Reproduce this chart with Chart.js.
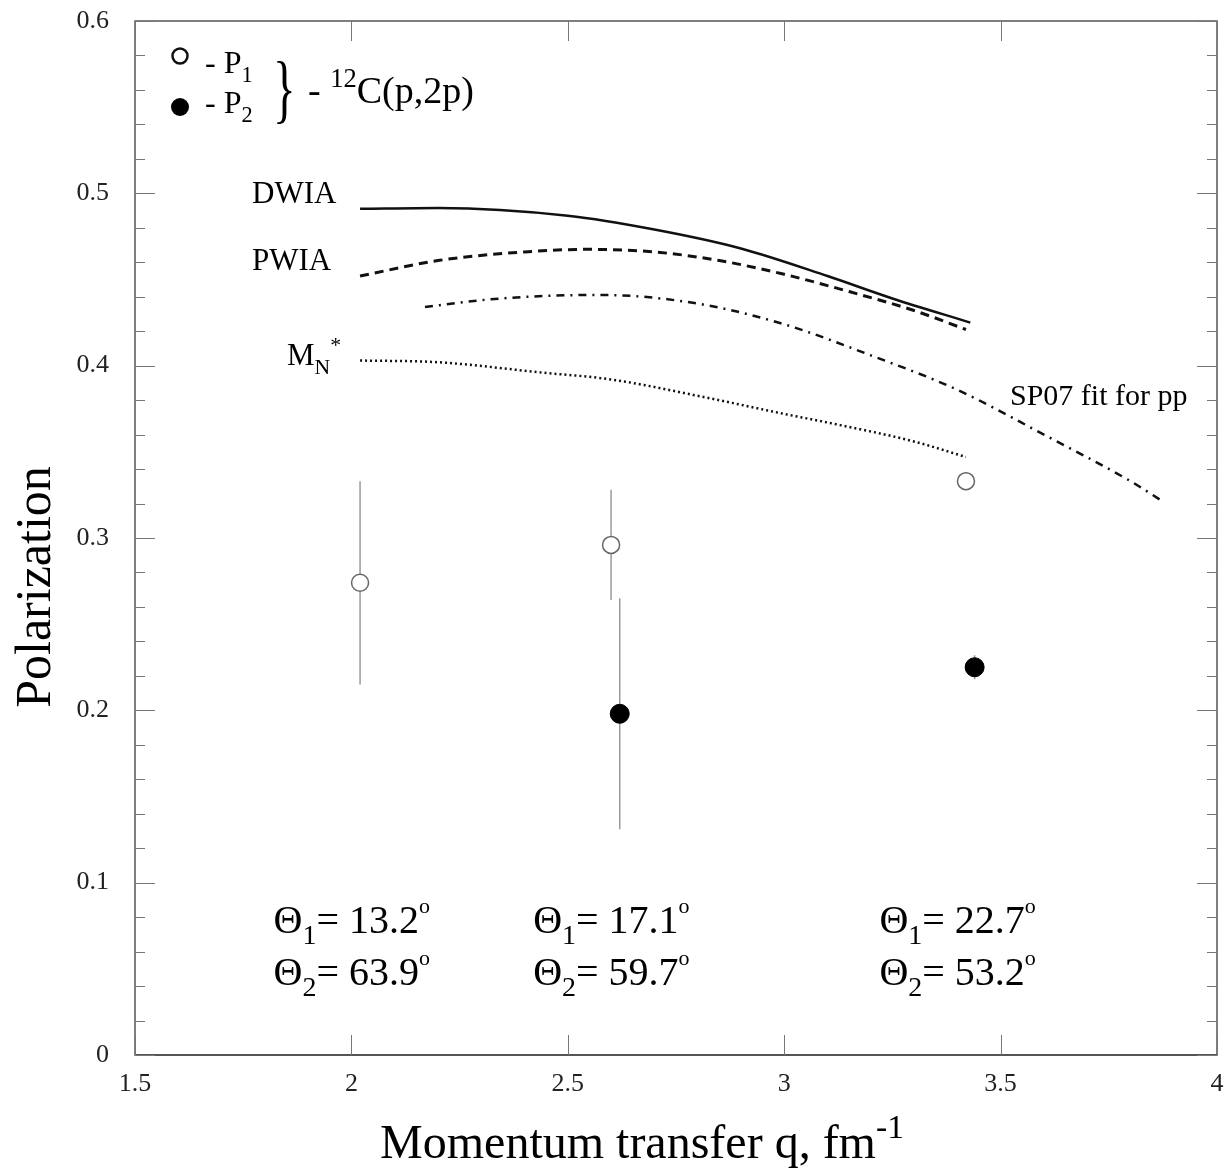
<!DOCTYPE html>
<html>
<head>
<meta charset="utf-8">
<script src="https://cdn.jsdelivr.net/npm/chart.js@4.4.1/dist/chart.umd.min.js"></script>
<style>
  html, body { margin: 0; padding: 0; background: #fff; }
  #wrap { width: 1229px; height: 1175px; }
</style>
</head>
<body>
<div id="wrap"><canvas id="myChart"></canvas></div>
<script>
// curves
const dwiaQ = [2.02, 2.2, 2.5, 2.7, 2.9, 3.1, 3.25, 3.43]
const dwiaP = [0.491, 0.4915, 0.487, 0.479, 0.468, 0.452, 0.439, 0.425]
const pwiaQ = [2.02, 2.2, 2.4, 2.55, 2.7, 2.85, 3.0, 3.15, 3.3, 3.42]
const pwiaP = [0.452, 0.461, 0.466, 0.4675, 0.466, 0.461, 0.453, 0.443, 0.432, 0.421]
const sp07Q = [2.17, 2.3, 2.45, 2.58, 2.8, 3.0, 3.2, 3.4, 3.6, 3.8, 3.87]
const sp07P = [0.434, 0.438, 0.4405, 0.441, 0.436, 0.424, 0.406, 0.386, 0.360, 0.333, 0.322]
const mnQ = [2.02, 2.2, 2.44, 2.6, 2.81, 3.0, 3.12, 3.3, 3.42]
const mnP = [0.403, 0.402, 0.396, 0.392, 0.382, 0.372, 0.366, 0.356, 0.347]

// measured points
const p1Q = [2.02, 2.60, 3.42]
const p1P = [0.274, 0.296, 0.333]
const p1Lo = [0.215, 0.264, 0.328]
const p1Hi = [0.333, 0.328, 0.338]
const p2Q = [2.62, 3.44]
const p2P = [0.198, 0.225]
const p2Lo = [0.131, 0.218]
const p2Hi = [0.265, 0.232]

const xTicks = [1.5, 2, 2.5, 3, 3.5, 4]
const yTicks = [0, 0.1, 0.2, 0.3, 0.4, 0.5, 0.6]

const angleLabels = [
  { q: 1.82, t1: '13.2', t2: '63.9' },
  { q: 2.42, t1: '17.1', t2: '59.7' },
  { q: 3.22, t1: '22.7', t2: '53.2' }
]

const SERIF = '"Liberation Serif", "DejaVu Serif", serif'

function pts(xs, ys) {
  return xs.map((x, i) => ({ x: x, y: ys[i] }))
}

// draws text made of pieces: [text, 'n' | 'sub' | 'sup' | 'deg']
function rich(c, x, y, parts, size) {
  let cx = x
  parts.forEach(p => {
    let s = size, dy = 0
    if (p[1] === 'sub') { s = size * 0.7; dy = size * 0.28 }
    if (p[1] === 'sup') { s = size * 0.7; dy = -size * 0.42 }
    if (p[1] === 'deg') { s = size * 0.55; dy = -size * 0.5 }
    c.font = s + 'px ' + SERIF
    c.fillText(p[0], cx, y + dy)
    cx += c.measureText(p[0]).width
  })
  return cx
}

const errorBars = {
  id: 'errorBars',
  beforeDatasetsDraw(chart) {
    const c = chart.ctx, xs = chart.scales.x, ys = chart.scales.y
    c.save()
    c.strokeStyle = '#9a9a9a'
    c.lineWidth = 1.5
    const bar = (q, lo, hi) => {
      const px = xs.getPixelForValue(q)
      c.beginPath()
      c.moveTo(px, ys.getPixelForValue(lo))
      c.lineTo(px, ys.getPixelForValue(hi))
      c.stroke()
    }
    p1Q.forEach((q, i) => bar(q, p1Lo[i], p1Hi[i]))
    p2Q.forEach((q, i) => bar(q, p2Lo[i], p2Hi[i]))
    c.restore()
  }
}

const frame = {
  id: 'frame',
  afterDraw(chart) {
    const c = chart.ctx, a = chart.chartArea
    const xs = chart.scales.x, ys = chart.scales.y
    c.save()
    c.strokeStyle = '#555'
    c.lineWidth = 1.5
    c.strokeRect(a.left, a.top, a.right - a.left, a.bottom - a.top)
    c.lineWidth = 2
    c.beginPath()
    c.moveTo(a.left, a.bottom); c.lineTo(a.right, a.bottom)
    c.stroke()
    c.lineWidth = 1
    c.strokeStyle = '#777'
    c.beginPath()
    // y ticks, minor every 0.02
    for (let k = 0; k <= 30; k++) {
      const v = k * 0.02
      const py = Math.round(ys.getPixelForValue(v)) + 0.5
      const len = k % 5 === 0 ? 20 : 10
      c.moveTo(a.left, py); c.lineTo(a.left + len, py)
      c.moveTo(a.right, py); c.lineTo(a.right - len, py)
    }
    xTicks.forEach(v => {
      const px = Math.round(xs.getPixelForValue(v)) + 0.5
      c.moveTo(px, a.bottom); c.lineTo(px, a.bottom - 20)
      c.moveTo(px, a.top); c.lineTo(px, a.top + 20)
    })
    c.stroke()

    // texts
    c.fillStyle = '#000'
    c.textBaseline = 'alphabetic'
    c.textAlign = 'left'

    // legend
    c.strokeStyle = '#111'
    c.lineWidth = 2.5
    c.beginPath(); c.arc(180, 56, 7.5, 0, Math.PI * 2); c.stroke()
    c.beginPath(); c.arc(180, 107, 9, 0, Math.PI * 2); c.fill()
    rich(c, 205, 73, [['- P', 'n'], ['1', 'sub']], 32)
    rich(c, 205, 113, [['- P', 'n'], ['2', 'sub']], 32)
    c.save()
    c.translate(273, 114)
    c.scale(0.62, 1)
    c.font = '76px ' + SERIF
    c.fillText('}', 0, 0)
    c.restore()
    rich(c, 308, 103, [['- ', 'n'], ['12', 'sup'], ['C(p,2p)', 'n']], 38)

    // curve labels
    rich(c, 252, 203, [['DWIA', 'n']], 31)
    rich(c, 252, 270, [['PWIA', 'n']], 31)
    rich(c, 287, 365, [['M', 'n'], ['N', 'sub'], ['*', 'sup']], 31)
    rich(c, 1010, 405, [['SP07 fit for pp', 'n']], 30)

    // kinematics
    angleLabels.forEach(g => {
      const px = xs.getPixelForValue(g.q)
      rich(c, px, 933, [['\u0398', 'n'], ['1', 'sub'], ['= ' + g.t1, 'n'], ['o', 'deg']], 40)
      rich(c, px, 985, [['\u0398', 'n'], ['2', 'sub'], ['= ' + g.t2, 'n'], ['o', 'deg']], 40)
    })

    // axis titles
    c.font = '48px ' + SERIF
    const xt = 'Momentum transfer q, fm'
    const w = c.measureText(xt).width
    rich(c, 640 - (w + 24) / 2, 1158, [[xt, 'n'], ['-1', 'sup']], 48)
    c.save()
    c.translate(50, 587)
    c.rotate(-Math.PI / 2)
    c.textAlign = 'center'
    c.font = '50px ' + SERIF
    c.fillText('Polarization', 0, 0)
    c.restore()
    c.restore()
  }
}

const ctx = document.getElementById('myChart')

const curve = (label, data, dash, width) => ({
  label: label,
  data: data,
  borderColor: '#111',
  borderWidth: width,
  borderDash: dash,
  pointRadius: 0,
  fill: false,
  cubicInterpolationMode: 'monotone',
  showLine: true
})

const data = {
  datasets: [
    curve('DWIA', pts(dwiaQ, dwiaP), [], 2.5),
    curve('PWIA', pts(pwiaQ, pwiaP), [9, 6], 3),
    curve('SP07', pts(sp07Q, sp07P), [8, 6, 2, 6], 2.5),
    curve('MN*', pts(mnQ, mnP), [2, 3], 2.5),
    {
      label: 'P1', data: pts(p1Q, p1P), showLine: false,
      pointRadius: 8.5, pointBackgroundColor: '#fff',
      pointBorderColor: '#666', pointBorderWidth: 1.5
    },
    {
      label: 'P2', data: pts(p2Q, p2P), showLine: false,
      pointRadius: 9.5, pointBackgroundColor: '#000',
      pointBorderColor: '#000', pointBorderWidth: 1
    }
  ]
}

// keep the plot box where the original has it
function noPad(s) {
  s.paddingTop = 0
  s.paddingBottom = 0
  s.paddingLeft = 0
  s.paddingRight = 0
}

const config = {
  type: 'scatter',
  data: data,
  options: {
    responsive: true,
    maintainAspectRatio: false,
    animation: false,
    layout: { padding: { left: 0, right: 12, top: 21, bottom: 0 } },
    plugins: { legend: { display: false }, tooltip: { enabled: false } },
    scales: {
      x: {
        type: 'linear', min: 1.5, max: 4,
        afterFit: s => { s.height = 120; noPad(s) },
        afterBuildTicks: s => { s.ticks = xTicks.map(v => ({ value: v })) },
        grid: { display: false, drawTicks: false },
        border: { display: false },
        ticks: {
          padding: 14, color: '#222',
          font: { family: SERIF, size: 26 },
          callback: v => String(v)
        }
      },
      y: {
        type: 'linear', min: 0, max: 0.6,
        afterFit: s => { s.width = 135; noPad(s) },
        afterBuildTicks: s => { s.ticks = yTicks.map(v => ({ value: v })) },
        grid: { display: false, drawTicks: false },
        border: { display: false },
        ticks: {
          padding: 26, color: '#222',
          font: { family: SERIF, size: 26 },
          callback: v => v === 0 ? '0' : v.toFixed(1)
        }
      }
    }
  },
  plugins: [errorBars, frame]
}

const myChart = new Chart(ctx, config)
</script>
</body>
</html>
